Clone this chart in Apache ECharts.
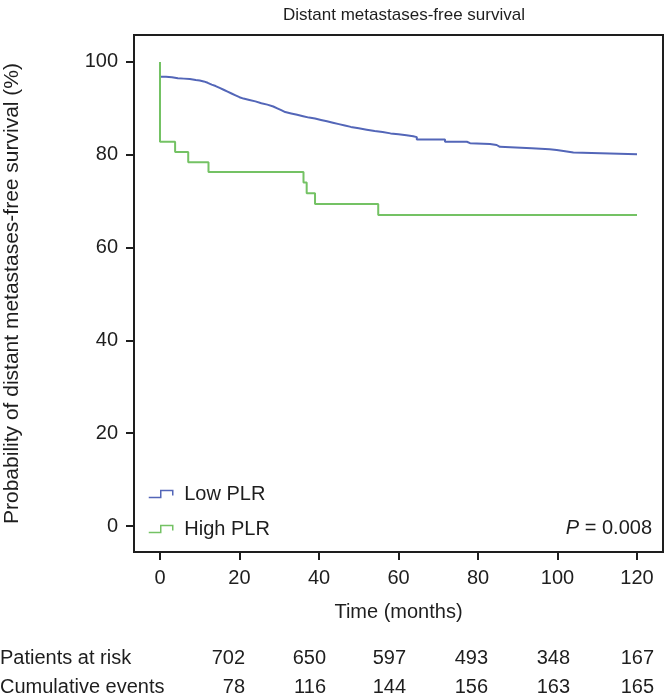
<!DOCTYPE html>
<html><head><meta charset="utf-8">
<script src="https://cdn.jsdelivr.net/npm/echarts@6/dist/echarts.min.js"></script>
<style>html,body{margin:0;padding:0;background:#fff}#c{width:667px;height:699px}</style>
</head><body><div id="c"></div>
<script>
// ---- data ----
const titleText = 'Distant metastases-free survival';
const seriesNames = ['Low PLR', 'High PLR'];
const xTicks = [0, 20, 40, 60, 80, 100, 120];
const yTicks = [0, 20, 40, 60, 80, 100];
const lowTime = [0, 0, 1.5, 3, 4.5, 6, 7.5, 9, 10, 11, 12, 13, 14, 15, 16, 17, 18, 19, 20, 21, 22.5, 24, 25.5, 27, 28.5, 29.5, 30.5, 31.5, 33, 34.5, 36, 37.5, 39, 40.5, 42, 43.5, 45, 46.5, 48, 50, 52, 54, 56, 58, 60, 62, 63.7, 64.6, 71.7, 77.2, 78, 83, 84.7, 85.5, 93.5, 98, 99.8, 101.5, 104, 120];
const lowSurv = [100, 96.8, 96.7, 96.5, 96.4, 96.3, 96.1, 96.0, 95.8, 95.5, 95.1, 94.8, 94.4, 94.0, 93.6, 93.2, 92.8, 92.4, 92.1, 91.8, 91.5, 91.1, 90.8, 90.4, 90.0, 89.6, 89.2, 88.9, 88.6, 88.3, 88.0, 87.8, 87.5, 87.2, 86.9, 86.6, 86.3, 86.0, 85.7, 85.4, 85.1, 84.9, 84.6, 84.4, 84.2, 84.0, 83.8, 83.3, 82.8, 82.5, 82.3, 82.1, 81.7, 81.4, 81.2, 81.0, 80.8, 80.5, 80.1, 80.1];
const highTime = [0, 0, 3.8, 7.1, 12.2, 36.1, 36.9, 39, 54.9, 120];
const highSurv = [100, 82.8, 80.6, 78.4, 76.3, 74.0, 71.7, 69.4, 67.0, 67.0];
const riskLabels = ['Patients at risk', 'Cumulative events'];
const atRisk = [702, 650, 597, 493, 348, 167];
const cumEvents = [78, 116, 144, 156, 163, 165];
const pText = '0.008';

// ---- styling ----
const FONT = '"Liberation Sans", Arial, Helvetica, sans-serif';
const TXT = '#1e1e1e';
const BLUE = '#5366b8';
const GREEN = '#74c264';
const colRight = [245, 326, 406, 488, 570, 654];
const rowY = [658, 687];

const chart = echarts.init(document.getElementById('c'), null, {renderer: 'canvas'});
const pairs = (t, v) => t.map((x, i) => [x, v[i]]);
const stepIcon = 'path://M0,7 L12,7 L12,0 L24,0 L24,5';

const graphics = [];
riskLabels.forEach((lab, r) => {
  graphics.push({type: 'text', x: 0, y: rowY[r],
    style: {text: lab, font: '20px ' + FONT, fill: TXT, textVerticalAlign: 'middle'}});
  const vals = r === 0 ? atRisk : cumEvents;
  vals.forEach((v, i) => {
    graphics.push({type: 'text', x: colRight[i], y: rowY[r],
      style: {text: String(v), font: '20px ' + FONT, fill: TXT, textAlign: 'right', textVerticalAlign: 'middle'}});
  });
});
graphics.push({type: 'text', x: 652, y: 528,
  style: {text: '{i|P} = ' + pText, fill: TXT, textAlign: 'right', textVerticalAlign: 'middle', font: '20px ' + FONT,
    rich: {i: {fontStyle: 'italic', fontSize: 20, fontFamily: FONT, fill: TXT}}}});

chart.setOption({
  animation: false,
  backgroundColor: '#fff',
  title: {text: titleText, left: 399, top: 2, textAlign: 'center',
    textStyle: {fontSize: 17, fontWeight: 'normal', color: TXT, fontFamily: FONT}},
  grid: {left: 134, right: 4, top: 35, bottom: 147, show: true, borderColor: '#1e1e1e', borderWidth: 2,
    backgroundColor: 'transparent', containLabel: false, outerBoundsMode: 'none'},
  legend: {
    orient: 'vertical', left: 143, top: 479, itemWidth: 25, itemHeight: 7, itemGap: 15,
    textStyle: {fontSize: 20, color: TXT, fontFamily: FONT, padding: [0, 0, 0, 6]},
    icon: stepIcon,
    data: [
      {name: seriesNames[0], icon: stepIcon, itemStyle: {color: 'transparent', borderColor: BLUE, borderWidth: 1.5}},
      {name: seriesNames[1], icon: stepIcon, itemStyle: {color: 'transparent', borderColor: GREEN, borderWidth: 1.5}}
    ]
  },
  xAxis: {
    type: 'value', min: -6.54, max: 126.54,
    name: 'Time (months)', nameLocation: 'middle', nameGap: 50,
    nameTextStyle: {fontSize: 20, color: TXT, fontFamily: FONT},
    axisLine: {show: true, onZero: false, lineStyle: {color: '#1e1e1e', width: 2}},
    axisTick: {show: true, length: 8, customValues: xTicks, lineStyle: {color: '#1e1e1e', width: 2}},
    axisLabel: {customValues: xTicks, margin: 16, fontSize: 20, color: TXT, fontFamily: FONT},
    splitLine: {show: false}
  },
  yAxis: {
    type: 'value', min: -5.6, max: 105.8,
    name: 'Probability of distant metastases-free survival (%)', nameLocation: 'middle', nameGap: 111,
    nameTextStyle: {fontSize: 21, color: TXT, fontFamily: FONT},
    axisLine: {show: true, onZero: false, lineStyle: {color: '#1e1e1e', width: 2}},
    axisTick: {show: true, length: 8, customValues: yTicks, lineStyle: {color: '#1e1e1e', width: 2}},
    axisLabel: {customValues: yTicks, margin: 16, fontSize: 20, color: TXT, fontFamily: FONT},
    splitLine: {show: false}
  },
  series: [
    {name: seriesNames[0], type: 'line', step: 'end', data: pairs(lowTime, lowSurv), showSymbol: false, symbol: 'none',
      color: BLUE, lineStyle: {color: BLUE, width: 2}, z: 2},
    {name: seriesNames[1], type: 'line', step: 'end', data: pairs(highTime, highSurv), showSymbol: false, symbol: 'none',
      color: GREEN, lineStyle: {color: GREEN, width: 2}, z: 3}
  ],
  graphic: graphics
});
</script></body></html>
